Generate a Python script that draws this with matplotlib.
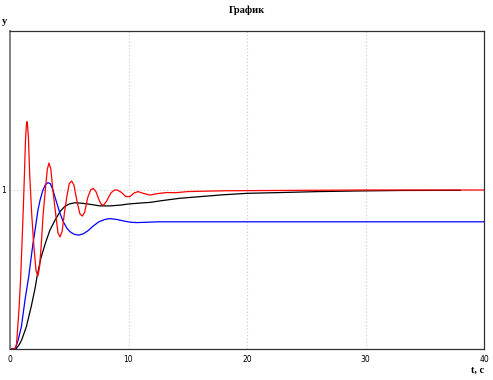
import matplotlib
matplotlib.use("Agg")
import matplotlib.pyplot as plt

# Red curve (oscillating)
red_t = [0, 0.4, 0.55, 0.76, 0.9, 1.01, 1.12, 1.21, 1.3, 1.38, 1.43, 1.48, 1.56, 1.66, 1.83, 2.0, 2.2,
         2.36, 2.5, 2.64, 2.8, 2.98, 3.15, 3.29, 3.45, 3.6, 3.9, 4.05, 4.22, 4.4, 4.6, 4.8, 5.0,
         5.2, 5.4, 5.65, 5.9, 6.1, 6.3, 6.55, 6.8, 7.03, 7.25, 7.5, 7.7, 7.9, 8.15, 8.5, 8.8,
         9.05, 9.4, 9.75, 10.1, 10.45, 10.8, 11.2, 11.8, 12.5, 13.2, 14.0, 15.0, 16.0, 18.0,
         20.0, 25.0, 30.0, 40.0]
red_y = [0, 0, 0.03, 0.25, 0.45, 0.66, 0.88, 1.08, 1.30, 1.41, 1.43, 1.41, 1.32, 1.10, 0.85, 0.66, 0.49,
         0.46, 0.52, 0.66, 0.85, 1.0, 1.13, 1.17, 1.13, 1.01, 0.82, 0.73, 0.705, 0.74, 0.86, 0.96, 1.04,
         1.057, 1.03, 0.93, 0.85, 0.836, 0.86, 0.95, 1.0, 1.01, 0.99, 0.94, 0.91, 0.905, 0.93, 0.98, 1.0,
         1.0, 0.985, 0.96, 0.958, 0.98, 0.99, 0.98, 0.968, 0.978, 0.984, 0.983, 0.99, 0.992, 0.995,
         0.996, 0.998, 1.0, 1.0]

# Blue curve
blue_t = [0, 0.45, 0.7, 0.96, 1.27, 1.58, 1.94, 2.1, 2.36, 2.55, 2.78, 3.0, 3.2, 3.4, 3.6, 3.9,
          4.22, 4.5, 4.8, 5.06, 5.4, 5.8, 6.2, 6.6, 7.03, 7.5, 8.0, 8.44, 9.0, 9.6, 10.2, 10.7,
          11.5, 12.5, 15.0, 40.0]
blue_y = [0, 0, 0.06, 0.14, 0.31, 0.455, 0.664, 0.74, 0.874, 0.94, 1.0, 1.035, 1.046, 1.04, 1.005, 0.93,
          0.853, 0.80, 0.76, 0.738, 0.722, 0.716, 0.725, 0.745, 0.774, 0.80, 0.815, 0.82, 0.815, 0.805,
          0.797, 0.795, 0.797, 0.80, 0.80, 0.80]

# Black curve
black_t = [0, 0.5, 0.8, 1.0, 1.38, 1.8, 2.11, 2.28, 2.6, 2.98, 3.38, 3.8, 4.22, 4.6, 5.0, 5.49,
           6.2, 7.0, 7.6, 8.44, 9.3, 10.0, 11.0, 11.8, 13.0, 14.35, 16.0, 18.0, 20.0, 23.4, 26.0,
           29.4, 33.0, 38.0]
black_y = [0, 0, 0.03, 0.06, 0.14, 0.27, 0.38, 0.455, 0.57, 0.664, 0.75, 0.81, 0.864, 0.895, 0.912, 0.92,
           0.916, 0.907, 0.90, 0.90, 0.905, 0.912, 0.918, 0.922, 0.935, 0.948, 0.958, 0.97, 0.979, 0.985,
           0.99, 0.994, 0.997, 0.998]

x_ticks = [0, 10, 20, 30, 40]
y_ticks = [1]

fig = plt.figure(figsize=(4.93, 3.80), dpi=100)
ax = fig.add_axes([10 / 493, 31 / 380, 474 / 493, 318 / 380])
ax.set_xlim(0, 40)
ax.set_ylim(0, 2)

for x in [10, 20, 30]:
    ax.axvline(x, color="#c8c8c8", lw=0.8, ls=(0, (1, 2)), zorder=0)
ax.axhline(1, color="#c8c8c8", lw=0.8, ls=(0, (1, 2)), zorder=0)

ax.plot(black_t, black_y, color="black", lw=0.9)
ax.plot(blue_t, blue_y, color="#0000ff", lw=0.9)
ax.plot(red_t, red_y, color="#ff0000", lw=0.9)

ax.set_xticks(x_ticks)
ax.set_xticklabels([str(v) for v in x_ticks])
ax.set_yticks(y_ticks)
ax.set_yticklabels([str(v) for v in y_ticks])
ax.tick_params(length=0, labelsize=5.5, pad=4, colors="black")
ax.tick_params(axis="y", pad=3)
for s in ax.spines.values():
    s.set_color("#303030")
    s.set_linewidth(0.9)
ax.spines["left"].set_color("#808080")
ax.spines["left"].set_linewidth(1.4)

fig.text(0.5, 1 - 10 / 380, "График", ha="center", va="center",
         fontfamily="Liberation Serif", fontweight="bold", fontsize=7.5)
fig.text(5 / 493, 1 - 22 / 380, "y", ha="center", va="center",
         fontfamily="Liberation Serif", fontweight="bold", fontsize=7.5)
fig.text(478 / 493, 1 - 370 / 380, "t, c", ha="center", va="center",
         fontfamily="Liberation Serif", fontweight="bold", fontsize=7.5)

fig.savefig("out.png", dpi=100)
